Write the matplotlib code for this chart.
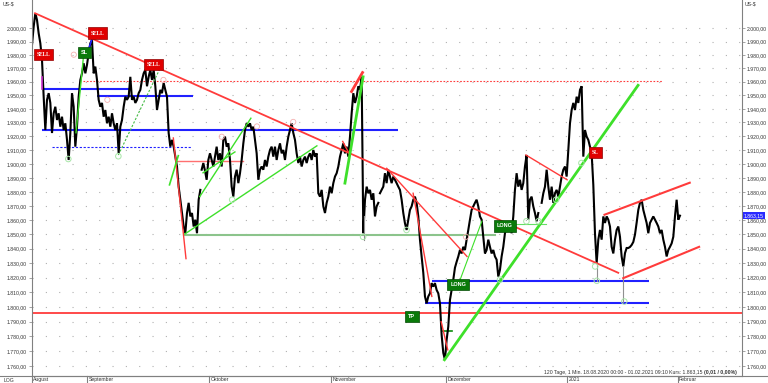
import numpy as np
import matplotlib
matplotlib.use('Agg')
import matplotlib.pyplot as plt
from matplotlib.ticker import FixedLocator, NullLocator, FuncFormatter
from matplotlib.lines import Line2D

plt.rcParams['font.family'] = ['Liberation Sans', 'DejaVu Sans']

# gold, 1 min, every 1/3.3 trading day, in four runs
step = 1 / 3.3
run_a_start = 0.0
run_a = [1987.4, 2001.2, 2011.4, 2006.3, 1996.2, 1988.7, 1976.2, 1948.9, 1924.5, 1946.6,
         1951.5, 1944.3, 1922.3, 1936.7, 1941.5, 1931.8, 1936.7, 1926.9, 1934.2, 1924.5,
         1929.4, 1917.3, 1902.8, 1922.3, 1951.5, 1941.5, 1912.4, 1926.9, 1948.9, 1961.3,
         1966.2, 1973.7, 1966.2, 1972.5, 1981.2, 1988.7, 1991.1, 1966.2, 1971.2, 1961.3,
         1946.6, 1941.5, 1944.3, 1934.2, 1939.1, 1929.4, 1934.2, 1926.9, 1936.7, 1929.4,
         1924.5, 1929.4, 1907.6, 1926.9, 1931.8, 1941.5, 1948.9, 1946.6, 1948.9, 1963.6,
         1946.6, 1948.9, 1944.3, 1946.6, 1951.5, 1953.9, 1961.3, 1966.2, 1968.8, 1956.6,
         1963.6, 1968.8, 1961.3, 1968.8, 1956.6, 1939.1, 1946.6, 1953.9, 1951.5, 1959.1,
         1953.9, 1948.9, 1922.3, 1912.4, 1917.3, 1912.4, 1905.2, 1898.1, 1883.7, 1874.4,
         1865.0, 1855.5, 1850.8, 1865.0, 1872.2, 1862.6, 1865.0, 1855.5, 1860.3, 1850.8,
         1874.4, 1881.4]
run_b_start = 30.85
run_b = [1895.8, 1900.6, 1895.1, 1888.6, 1902.8, 1907.6, 1902.8, 1898.1, 1905.2, 1912.4,
         1902.8, 1907.6, 1898.1, 1917.3, 1919.7, 1912.4, 1914.8, 1902.8, 1883.7, 1876.6,
         1890.9, 1895.8, 1886.2, 1893.3, 1902.8, 1914.8, 1924.5, 1929.4, 1926.9, 1929.4,
         1924.5, 1926.9, 1917.3, 1907.6, 1888.6, 1895.8, 1898.1, 1895.8, 1902.8, 1898.1,
         1905.2, 1910.0, 1912.4, 1905.2, 1912.4, 1902.8, 1910.0, 1914.8, 1907.6, 1910.0,
         1902.8, 1912.4, 1919.7, 1924.5, 1929.4, 1922.3, 1917.3, 1907.6, 1900.6, 1905.2,
         1898.1, 1902.8, 1905.2, 1900.6, 1905.2, 1907.6, 1902.8, 1910.0, 1905.2, 1907.6,
         1879.0, 1876.6, 1881.4, 1869.7, 1865.0, 1872.2, 1876.6, 1883.7, 1879.0, 1886.2,
         1890.9, 1893.3, 1898.1, 1905.2, 1910.0, 1914.8, 1907.6, 1912.4, 1905.2, 1919.7,
         1936.7, 1951.5, 1944.3, 1948.9, 1956.6, 1953.9, 1963.6, 1850.8, 1874.4, 1883.7,
         1879.0, 1881.4, 1874.4, 1879.0, 1862.6, 1869.7, 1872.2]
run_c_start = 63.27
run_c = [1879.0, 1881.4, 1883.7, 1893.3, 1886.2, 1895.8, 1890.9, 1886.2, 1890.9, 1888.6,
         1886.2, 1883.7, 1881.4, 1874.4, 1865.0, 1857.8, 1853.1, 1860.3, 1867.2, 1869.7,
         1874.4, 1876.6, 1872.2, 1862.6, 1846.3, 1834.6, 1823.3, 1807.1, 1802.4, 1807.1,
         1809.2, 1816.2, 1813.8, 1816.2, 1811.5, 1809.2, 1802.4, 1781.0, 1768.9, 1764.3,
         1777.6, 1786.6, 1804.7, 1811.5, 1818.6, 1826.8, 1830.9, 1834.6, 1839.1, 1836.7,
         1841.3, 1839.1, 1846.3, 1853.1, 1860.3, 1867.2, 1869.7, 1872.2, 1874.4, 1869.7,
         1862.6, 1860.3, 1848.3, 1836.7, 1839.1, 1846.3, 1841.3, 1836.7, 1839.1, 1834.6,
         1832.4, 1820.7, 1825.3, 1834.6, 1841.3, 1850.8, 1855.5, 1853.1, 1857.8, 1850.8,
         1862.6, 1881.4, 1893.3, 1883.7, 1888.6, 1881.4, 1886.2, 1898.1, 1906.4, 1860.3,
         1874.4, 1876.6, 1869.7, 1865.0, 1859.2, 1865.0]
run_d_start = 92.67
run_d = [1872.2, 1879.0, 1883.7, 1895.8, 1883.7, 1874.4, 1883.7, 1872.2, 1879.0, 1881.4,
         1876.6, 1883.7, 1890.9, 1895.8, 1898.1, 1890.9, 1910.0, 1929.4, 1939.1, 1944.3,
         1939.1, 1948.9, 1944.3, 1953.9, 1956.6, 1905.2, 1924.5, 1919.7, 1917.3, 1912.4,
         1907.6, 1885.0, 1850.8, 1829.9, 1846.3, 1853.1, 1846.3, 1862.6, 1858.0, 1862.6,
         1860.3, 1855.5, 1841.3, 1836.7, 1846.3, 1853.1, 1855.5, 1848.3, 1834.6, 1827.7,
         1836.9, 1840.5, 1840.5, 1841.2, 1842.6, 1844.7, 1849.8, 1858.2, 1867.2, 1872.2,
         1874.4, 1867.2, 1862.6, 1858.0, 1850.8, 1858.0, 1860.3, 1862.6, 1860.3, 1858.0,
         1855.5, 1850.8, 1853.1, 1846.3, 1841.3, 1834.6, 1839.1, 1841.3, 1843.7, 1848.3,
         1862.6, 1874.4, 1860.3, 1863.15]
last_price = 1863.15

# long wicks (day, high, low)
wicks = [(60.4, 1862.6, 1846.3), (102.7, 1829.9, 1817.6), (107.5, 1827.7, 1803.6)]

month_names = ['August', 'September', 'Oktober', 'November', 'Dezember', '2021', 'Februar']
month_start = [0.0, 10.05, 32.2, 54.4, 75.3, 97.3, 117.4]
price_ticks = list(range(1760, 2001, 10))

# drawings: (day0, price0, day1, price1, linewidth)
red_lines = [(0.55, 2011.4, 106.6, 1823.3, 1.3),
             (64.5, 1896.8, 79.1, 1834.6, 1.0),
             (69.3, 1879.0, 72.7, 1807.1, 1.0),
             (74.4, 1789.9, 75.6, 1770.9, 1.0),
             (89.8, 1906.4, 97.3, 1888.6, 1.0),
             (104.1, 1863.8, 119.6, 1886.5, 1.5),
             (107.5, 1819.6, 121.3, 1841.3, 1.5),
             (25.7, 1918.7, 28.0, 1833.1, 1.0),
             (58.1, 1952.7, 60.1, 1966.8, 2.0),
             (56.5, 1916.2, 57.8, 1906.4, 1.0)]
green_lines = [(8.0, 1922.5, 9.33, 1977.5, 1.0),
               (25.0, 1885.0, 26.6, 1905.9, 1.2),
               (30.5, 1876.6, 39.8, 1933.1, 1.0),
               (31.1, 1893.6, 36.9, 1908.6, 1.0),
               (27.8, 1850.3, 51.8, 1913.0, 1.0),
               (56.9, 1886.2, 60.2, 1963.6, 2.0),
               (75.0, 1764.3, 110.2, 1957.3, 2.0),
               (77.5, 1815.0, 81.8, 1859.2, 0.8)]
green_dashed = [(15.7, 1906.4, 23.3, 1970.0)]
# horizontal levels: (day0, day1, price)
blue_levels = [(1.82, 17.8, 1954.4), (11.8, 29.3, 1949.4), (1.82, 66.5, 1924.5),
               (72.7, 112.2, 1817.9), (71.5, 112.2, 1802.9)]
blue_dashed = [(3.64, 29.1, 1912.0)]
red_levels = [(0.0, 129.1, 1795.6), (26.4, 38.4, 1902.2)]
red_dotted = [(9.33, 114.7, 1960.6)]
green_levels = [(27.6, 84.2, 1849.3, '#8cc48c', 1.5),
                (86.9, 93.5, 1857.4, '#66dd66', 0.8),
                (74.5, 76.3, 1783.8, '#0a8a0a', 1.2)]

tags = [('SELL', 2.1, 1980.0, 'sell'), ('SELL', 11.9, 1996.4, 'sell'),
        ('SELL', 22.1, 1972.5, 'sell'), ('SL', 9.6, 1981.8, 'long'),
        ('SL', 102.4, 1908.2, 'sell'), ('LONG', 86.0, 1855.9, 'long'),
        ('LONG', 77.5, 1815.5, 'long'), ('TP', 69.1, 1793.5, 'long')]

low_marks_day = [6.6, 15.7, 36.4, 60.2, 68.1, 85.1, 89.9, 92.1, 95.3, 99.9, 102.4, 102.7, 107.7]
low_marks_price = [1903.5, 1905.5, 1874.4, 1848.3, 1853.1, 1818.6, 1859.2, 1859.2, 1874.4,
                   1900.6, 1827.7, 1817.8, 1803.6]
high_marks_day = [7.6, 13.7, 23.9, 34.5, 40.9, 47.5, 78.9]
high_marks_price = [1980.1, 1946.6, 1961.3, 1919.6, 1927.1, 1930.4, 1848.3]

RED = '#ff3b3b'
BLUE = '#2020ff'
GREEN = '#3ee02a'
GREY = '#808080'
FS = 3.7


def de_fmt(v, pos=None):
    s = '{0:,.2f}'.format(v)
    return s.replace(',', 'X').replace('.', ',').replace('X', '.')


fig = plt.figure(figsize=(7.68, 3.83), dpi=100)
ax = fig.add_axes([32 / 768, 7 / 383, 710 / 768, 376 / 383])
ax.set_yscale('log')
ax.set_xlim(0, 129.1)
ax.set_ylim(1753.5, 2021.5)

ax.yaxis.set_major_locator(FixedLocator(price_ticks))
ax.yaxis.set_minor_locator(NullLocator())
ax.yaxis.set_major_formatter(FuncFormatter(de_fmt))
ax.yaxis.set_minor_formatter(FuncFormatter(lambda v, p: ''))
ax.tick_params(axis='y', labelleft=True, labelright=True, left=True, right=True,
               length=2, width=0.5, color=GREY, labelsize=FS, pad=1.5, labelcolor='#333333')
ax.set_xticks([])
ax.grid(axis='y', color='#b0b0b0', lw=0.8, linestyle=(0, (1, 11)))
ax.set_axisbelow(True)
for side in ['left', 'right', 'bottom']:
    ax.spines[side].set_color(GREY)
    ax.spines[side].set_linewidth(0.8)
ax.spines['top'].set_visible(False)

# drawings under the price
ax.hlines([p for _, _, p in blue_levels], [a for a, _, _ in blue_levels],
          [b for _, b, _ in blue_levels], color=BLUE, lw=1.5)
for a, b, p in blue_dashed:
    ax.plot([a, b], [p, p], color=BLUE, lw=0.8, linestyle=(0, (2, 1.5)))
ax.plot([red_levels[0][0], red_levels[0][1]], [red_levels[0][2]] * 2, color=RED, lw=1.3)
ax.plot([red_levels[1][0], red_levels[1][1]], [red_levels[1][2]] * 2, color='#ff7070', lw=1.0)
for a, b, p in red_dotted:
    ax.plot([a, b], [p, p], color=RED, lw=0.8, linestyle=(0, (1.5, 1.5)))
for a, b, p, c, w in green_levels:
    ax.plot([a, b], [p, p], color=c, lw=w)

# price
for start, run in [(run_a_start, run_a), (run_b_start, run_b),
                   (run_c_start, run_c), (run_d_start, run_d)]:
    ax.plot(start + step * np.arange(len(run)), run, color='black', lw=1.5,
            solid_joinstyle='miter')
for d, hi, lo in wicks:
    ax.plot([d, d], [hi, lo], color='#909090', lw=0.8)

for x0, y0, x1, y1, w in red_lines:
    ax.plot([x0, x1], [y0, y1], color=RED, lw=w)
for x0, y0, x1, y1, w in green_lines:
    ax.plot([x0, x1], [y0, y1], color=GREEN, lw=w)
for x0, y0, x1, y1 in green_dashed:
    ax.plot([x0, x1], [y0, y1], color='#44bb44', lw=0.8, linestyle=(0, (2, 1.5)))
ax.plot([9.95, 10.85], [1980.0, 1991.2], color=BLUE, lw=1.2)
ax.plot([1.82, 1.82], [1963.6, 1954.4], color='#cc33cc', lw=1.2)

ax.scatter(low_marks_day, low_marks_price, s=16, facecolors='none',
           edgecolors='#a8e6a8', linewidths=0.7, zorder=3)
ax.scatter(high_marks_day, high_marks_price, s=14, facecolors='none',
           edgecolors='#f4b0b0', linewidths=0.6, zorder=3)

for txt, d, p, kind in tags:
    if kind == 'sell':
        ax.text(d, p, txt, fontsize=4.0, color='white', ha='center', va='center',
                family='Liberation Serif', fontweight='bold', zorder=5,
                bbox=dict(boxstyle='square,pad=0.55', fc='#e00000', ec='#900000', lw=0.5))
    else:
        ax.text(d, p, txt, fontsize=4.0, color='white', ha='center', va='center',
                fontweight='bold', zorder=5,
                bbox=dict(boxstyle='square,pad=0.55', fc='#0a7a0a', ec='#044a04', lw=0.5))

# last price tag
ax.text(1.003, last_price, de_fmt(last_price), transform=ax.get_yaxis_transform(),
        fontsize=FS, color='white', ha='left', va='center', zorder=6,
        bbox=dict(boxstyle='square,pad=0.25', fc='#2a2aff', ec='none'))

# month row
xt = ax.get_xaxis_transform()
for m, name in zip(month_start, month_names):
    ax.plot([m, m], [0, -7 / 376], color=GREY, lw=0.8, transform=xt, clip_on=False)
    ax.text(m + 0.25, -3.8 / 376, name, transform=xt, fontsize=FS, color='#333333',
            ha='left', va='center')
fig.add_artist(Line2D([0, 1], [7 / 383, 7 / 383], color=GREY, lw=0.8, transform=fig.transFigure))
fig.text(4 / 768, 3 / 383, 'LOG', fontsize=FS, color='#333333', va='center')
fig.text(3 / 768, 1 - 4 / 383, 'US-$', fontsize=FS, color='#333333', va='center')
fig.text(745 / 768, 1 - 4 / 383, 'US-$', fontsize=FS, color='#333333', va='center')

# footer: bold change part at the right end, the rest just left of it
info_y = 1 - 372.5 / 383
bold = fig.text(737 / 768, info_y, '(0,01 / 0,00%)', fontsize=FS, color='#333333',
                ha='right', va='center', fontweight='bold')
renderer = fig.canvas.get_renderer()
bx0 = bold.get_window_extent(renderer).x0
fig.text((bx0 - 1.5) / 768, info_y,
         '120 Tage, 1 Min. 18.08.2020 00:00 - 01.02.2021 09:10 Kurs: 1.863,15',
         fontsize=FS, color='#333333', ha='right', va='center')

fig.savefig('out.png', dpi=100)
plt.close(fig)
